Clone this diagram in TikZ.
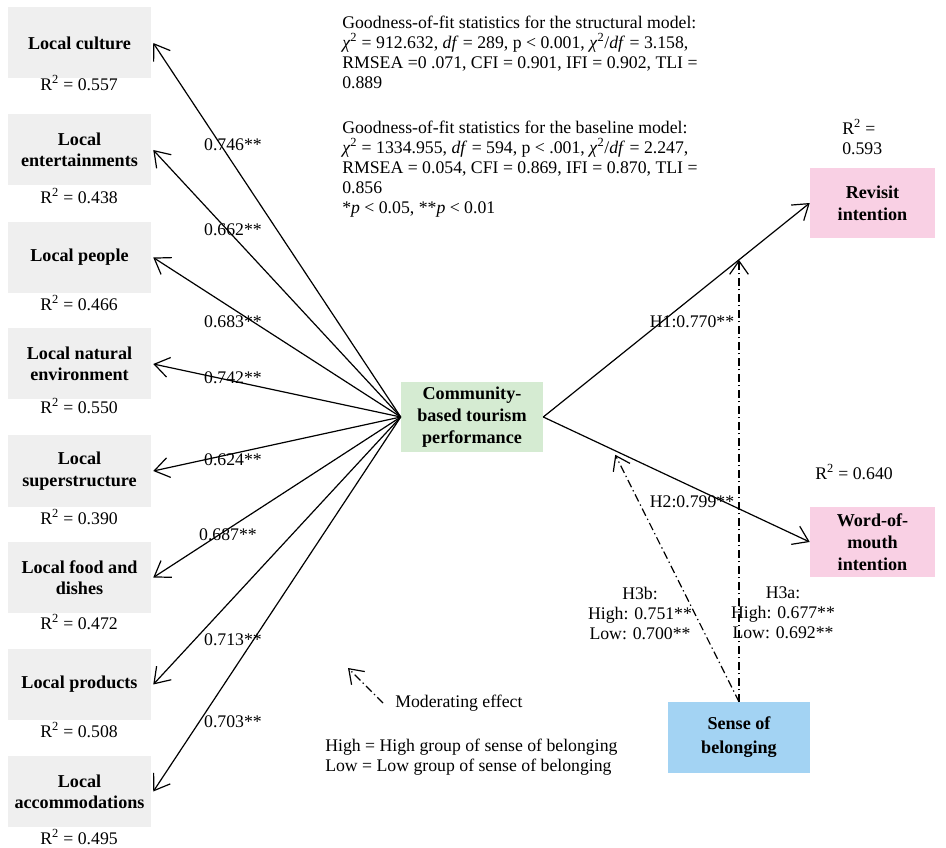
\documentclass[tikz,border=0pt]{standalone}
\usepackage{fontspec}
\setmainfont{Liberation Serif}
\usetikzlibrary{arrows.meta,calc}
\definecolor{boxgray}{HTML}{EFEFEF}
\definecolor{boxgreen}{HTML}{D5EBD2}
\definecolor{boxpink}{HTML}{F9D0E4}
\definecolor{boxblue}{HTML}{A3D3F3}
\tikzset{
  lbox/.style={fill=boxgray, minimum width=107.25pt, minimum height=53.25pt, inner sep=1pt,
    align=center, font=\fontsize{13.6}{16}\selectfont\bfseries},
  cbox/.style={minimum width=106.5pt, minimum height=52.5pt, inner sep=1pt,
    align=center, font=\fontsize{13.6}{16.5}\selectfont\bfseries},
  txt/.style={inner sep=0pt, font=\fontsize{13.3}{15}\selectfont},
  path/.style={line width=0.9pt, -{Straight Barb[length=11pt,width=15pt,line width=0.9pt]}},
  modpath/.style={line width=0.9pt, dash pattern=on 6pt off 2.5pt on 1pt off 2.5pt,
    -{Straight Barb[length=10pt,width=14pt,line width=0.9pt]}}
}
\newcommand{\Rsq}[1]{R\textsuperscript{2} = #1}
\newcommand{\chisq}{\textit{χ}\textsuperscript{2}}
\begin{document}
\begin{tikzpicture}[x=0.75pt,y=-0.75pt]
\useasboundingbox (0,0) rectangle (946,848);
% left boxes
\node[lbox] (b1) at (79.5,43) {Local culture};
\node[lbox] (b2) at (79.5,150) {Local\\entertainments};
\node[lbox] (b3) at (79.5,257.5) {Local people};
\node[lbox] (b4) at (79.5,364) {Local natural\\environment};
\node[lbox] (b5) at (79.5,471) {Local\\superstructure};
\node[lbox] (b6) at (79.5,577.5) {Local food and\\dishes};
\node[lbox] (b7) at (79.5,684.5) {Local products};
\node[lbox] (b8) at (79.5,791.5) {Local\\accommodations};
% R2 labels
\node[txt] (r1) at (79,83) {\Rsq{0.557}};
\node[txt] (r2) at (79,196) {\Rsq{0.438}};
\node[txt] (r3) at (79,303) {\Rsq{0.466}};
\node[txt] (r4) at (79,406) {\Rsq{0.550}};
\node[txt] (r5) at (79,517) {\Rsq{0.390}};
\node[txt] (r6) at (79,622) {\Rsq{0.472}};
\node[txt] (r7) at (79,730) {\Rsq{0.508}};
\node[txt] (r8) at (79,837) {\Rsq{0.495}};
% central and outcome boxes
\node[cbox, fill=boxgreen] (cbt) at (472,417) {Community-\\based tourism\\performance};
\node[cbox, fill=boxpink, minimum width=93.75pt] (rev) at (872.5,203) {Revisit\\intention};
\node[cbox, fill=boxpink, minimum width=93.75pt] (wom) at (872.5,542) {Word-of-\\mouth\\intention};
\node[cbox, fill=boxblue, minimum height=53.25pt, font=\fontsize{13.6}{18}\selectfont\bfseries] (sob) at (739,737.5) {Sense of\\belonging};
% loadings
\foreach \b in {b1,b2,b3,b4,b5,b6,b7,b8}{
  \draw[path] (cbt.west) -- ([xshift=1.5pt]\b.east);
}
\node[txt] (l1) at (233,145) {0.746**};
\node[txt] (l2) at (233,230) {0.662**};
\node[txt] (l3) at (233,322) {0.683**};
\node[txt] (l4) at (233,378) {0.742**};
\node[txt] (l5) at (233,460) {0.624**};
\node[txt] (l6) at (228,535) {0.687**};
\node[txt] (l7) at (233,640) {0.713**};
\node[txt] (l8) at (233,722) {0.703**};
% structural paths
\draw[path] (cbt.east) -- (rev.west);
\draw[path] (cbt.east) -- (wom.west);
\node[txt] (h1) at (692,322) {H1:0.770**};
\node[txt] (h2) at (692,502) {H2:0.799**};
\node[txt, align=left, anchor=west] (rr) at (842,137) {R\textsuperscript{2} =\\0.593};
\node[txt] (rw) at (854,472) {\Rsq{0.640}};
% moderating paths
\coordinate (m1) at ($(cbt.east)!0.734!(rev.west)$);
\coordinate (m2) at ($(cbt.east)!0.27!(wom.west)+(0,4)$);
\draw[modpath] (sob.north) -- (sob.north |- m1);
\draw[modpath] (sob.north) -- (m2);
\node[txt, align=center] (h3b) at (640,613) {H3b:\\High: 0.751**\\Low: 0.700**};
\node[txt, align=center] (h3a) at (783,613) {H3a:\\High: 0.677**\\Low: 0.692**};
% fit statistics
\node[txt, align=left, anchor=west] (fit1) at (342,52) {Goodness-of-fit statistics for the structural model:\\
\chisq{} = 912.632, \textit{df} = 289, p {\textless} 0.001, \chisq/\textit{df} = 3.158,\\
RMSEA =0 .071, CFI = 0.901, IFI = 0.902, TLI =\\
0.889};
\node[txt, align=left, anchor=west] (fit2) at (342,169) {Goodness-of-fit statistics for the baseline model:\\
\chisq{} = 1334.955, \textit{df} = 594, p {\textless} .001, \chisq/\textit{df} = 2.247,\\
RMSEA = 0.054, CFI = 0.869, IFI = 0.870, TLI =\\
0.856\\
*\textit{p} {\textless} 0.05, **\textit{p} {\textless} 0.01};
% legend
\coordinate (lgs) at (383,703);
\coordinate (lge) at (348,668);
\draw[modpath] (lgs) -- (lge);
\node[txt, anchor=west] (lgm) at (395,703) {Moderating effect};
\node[txt, align=left, anchor=west] (lgh) at (325,757) {High = High group of sense of belonging\\Low = Low group of sense of belonging};
\end{tikzpicture}
\end{document}
